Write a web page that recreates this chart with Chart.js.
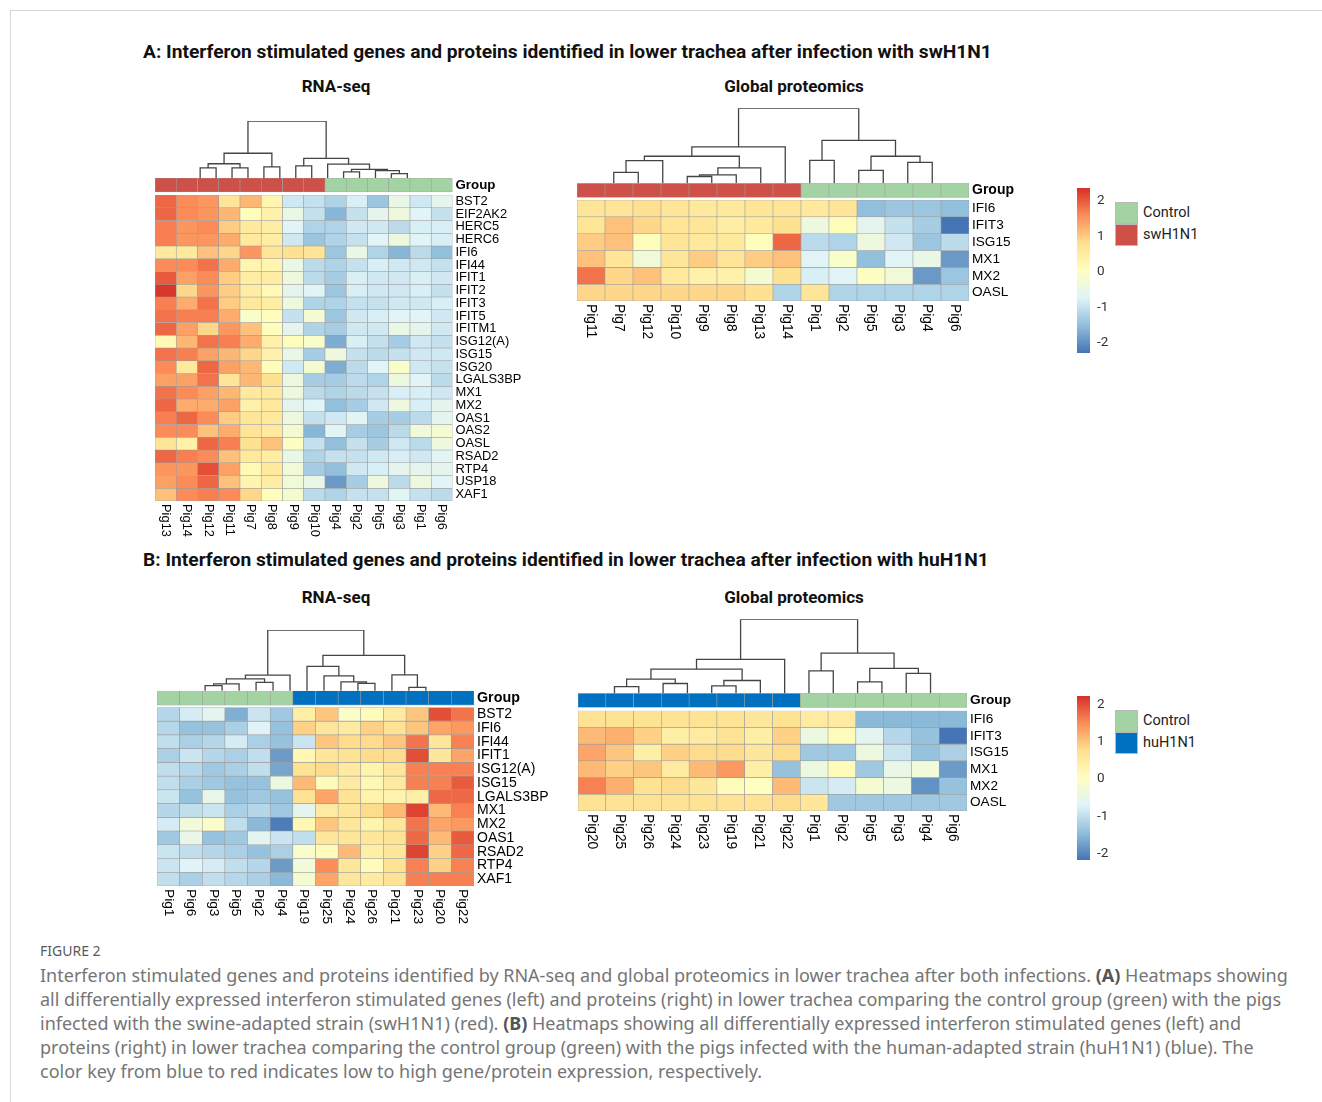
<!DOCTYPE html>
<html><head><meta charset="utf-8">
<script src="https://cdn.jsdelivr.net/npm/chart.js@4.4.0/dist/chart.umd.min.js"></script>
<style>
html,body{margin:0;padding:0;background:#fff;}
body{width:1322px;height:1102px;position:relative;overflow:hidden;font-family:Roboto,'Liberation Sans',sans-serif;}
.abs{position:absolute;white-space:nowrap;}
.frame{position:absolute;left:10px;top:10px;width:1330px;height:1110px;border-top:1px solid #d6d6d6;border-left:1px solid #d6d6d6;}
.title{font-weight:bold;font-size:19.2px;line-height:24px;color:#111;}
.sub{font-weight:bold;font-size:17px;line-height:20px;color:#111;transform:translateX(-50%);}
.sq{position:absolute;width:23px;height:22px;border:1px solid #b9b9b9;box-sizing:border-box;}
.lg{font-size:14.5px;color:#222;line-height:22px;}
.fig{font-family:'Noto Sans',sans-serif;font-size:14px;color:#5a5a5a;line-height:20px;}
.cap{font-family:'Noto Sans',sans-serif;font-size:18px;line-height:24px;color:#757575;}
.cap b{color:#555;}
canvas{position:absolute;}
</style></head><body>
<div class="frame"></div>
<div class="abs title" style="left:143px;top:40px;">A: Interferon stimulated genes and proteins identified in lower trachea after infection with swH1N1</div>
<div class="abs sub" style="left:336px;top:76px;">RNA-seq</div>
<div class="abs sub" style="left:794px;top:76px;">Global proteomics</div>
<div class="abs title" style="left:143px;top:548px;">B: Interferon stimulated genes and proteins identified in lower trachea after infection with huH1N1</div>
<div class="abs sub" style="left:336px;top:587px;">RNA-seq</div>
<div class="abs sub" style="left:794px;top:587px;">Global proteomics</div>

<div id="legA"></div><div id="legB"></div>

<div class="abs fig" style="left:40px;top:941px;">FIGURE 2</div>
<div class="abs cap" style="left:40px;top:963px;">Interferon stimulated genes and proteins identified by RNA-seq and global proteomics in lower trachea after both infections. <b>(A)</b> Heatmaps showing<br>all differentially expressed interferon stimulated genes (left) and proteins (right) in lower trachea comparing the control group (green) with the pigs<br>infected with the swine-adapted strain (swH1N1) (red). <b>(B)</b> Heatmaps showing all differentially expressed interferon stimulated genes (left) and<br>proteins (right) in lower trachea comparing the control group (green) with the pigs infected with the human-adapted strain (huH1N1) (blue). The<br>color key from blue to red indicates low to high gene/protein expression, respectively.</div>

<script>
// ---------------- DATA ----------------
const rnaGenesA = ['BST2','EIF2AK2','HERC5','HERC6','IFI6','IFI44','IFIT1','IFIT2','IFIT3','IFIT5','IFITM1','ISG12(A)','ISG15','ISG20','LGALS3BP','MX1','MX2','OAS1','OAS2','OASL','RSAD2','RTP4','USP18','XAF1'];
const rnaPigsA = ['Pig13','Pig14','Pig12','Pig11','Pig7','Pig8','Pig9','Pig10','Pig4','Pig2','Pig5','Pig3','Pig1','Pig6'];
const rnaGroupsA = ['swH1N1','swH1N1','swH1N1','swH1N1','swH1N1','swH1N1','swH1N1','swH1N1','Control','Control','Control','Control','Control','Control'];
const rnaValuesA = [
  [1.9,1.6,1.5,0.7,1.2,0.3,-0.9,-1.0,-1.2,-0.8,-1.4,-0.5,-0.9,-0.6],
  [1.9,1.6,1.5,1.2,0.1,0.4,-0.5,-1.0,-1.6,-1.0,-0.6,-0.4,-0.7,-1.0],
  [1.7,1.5,1.6,1.0,0.6,0.5,-0.7,-1.2,-1.2,-0.9,-0.9,-1.1,-0.8,-0.8],
  [1.7,1.5,1.5,1.3,0.6,0.5,-0.9,-1.4,-1.2,-1.0,-0.7,-0.4,-0.7,-0.8],
  [0.6,0.6,1.1,0.9,1.5,0.7,0.8,0.7,-1.4,-0.5,-1.2,-1.6,-1.1,-1.5],
  [1.6,1.6,1.8,1.3,0.3,0.3,-0.5,-1.1,-1.2,-1.0,-0.8,-0.9,-0.9,-1.0],
  [2.0,1.4,1.6,1.0,0.5,0.5,-0.4,-1.1,-1.3,-0.8,-0.9,-0.9,-0.8,-0.9],
  [2.3,0.9,1.5,1.0,0.5,0.2,-0.6,-0.7,-1.4,-0.8,-0.9,-0.9,-0.8,-1.0],
  [1.7,1.3,1.8,1.0,0.6,0.5,-0.4,-1.2,-1.2,-1.0,-1.0,-0.9,-0.9,-0.8],
  [1.8,1.7,1.7,1.3,-0.1,0.1,-1.0,-0.2,-1.4,-0.9,-0.8,-0.7,-0.7,-0.9],
  [1.9,1.4,0.9,1.5,1.1,0.1,-0.6,-1.2,-1.3,-0.9,-0.9,-0.5,-0.6,-0.9],
  [0.2,1.2,1.8,1.7,1.3,0.4,0.1,-0.1,-1.7,-0.8,-1.0,-1.3,-0.9,-1.0],
  [1.8,1.7,1.4,1.2,0.9,0.4,-0.5,-1.3,-0.4,-1.0,-1.1,-1.0,-0.9,-0.9],
  [1.6,0.6,1.9,1.4,1.2,0.1,-0.9,-0.2,-1.7,-1.1,-0.7,-0.1,-0.9,-1.0],
  [1.4,1.4,1.8,0.7,1.2,0.8,-0.4,-1.3,-1.3,-1.1,-1.2,-0.4,-0.7,-1.1],
  [1.8,1.6,1.4,1.2,0.6,0.6,-0.4,-1.1,-1.2,-1.1,-1.0,-0.8,-0.8,-0.9],
  [1.9,1.3,1.3,1.4,0.4,0.6,-0.6,-0.7,-1.5,-1.3,-0.9,-0.4,-0.8,-0.6],
  [1.7,1.9,1.6,1.0,0.7,0.6,-0.4,-1.0,-0.9,-0.7,-1.3,-1.3,-1.1,-0.6],
  [1.6,1.6,1.1,1.3,0.7,0.6,-0.2,-1.6,-0.7,-1.3,-1.4,-1.1,-0.3,-0.2],
  [0.7,0.4,1.9,1.7,0.8,1.1,0.0,-1.0,-1.5,-1.0,-1.3,-0.9,-1.1,-0.4],
  [1.9,1.7,1.6,1.1,0.6,0.5,-0.5,-1.2,-1.0,-1.0,-0.9,-0.8,-0.9,-0.7],
  [1.5,1.5,2.1,1.4,0.2,0.6,-0.3,-1.3,-1.5,-0.9,-0.8,-0.6,-0.6,-0.6],
  [1.4,1.6,1.9,1.1,0.3,0.5,-0.3,-0.5,-1.9,-1.3,-0.4,-1.1,-0.4,-0.7],
  [1.1,1.6,1.7,1.6,0.9,0.1,-0.2,-1.1,-1.2,-1.0,-1.0,-0.7,-1.0,-1.1]
];
// dendrogram merges: [left, right, height]; leaves are column positions
const rnaTreeA = [[[[0,1,10],[2,3,10],14],[4,5,11],24.3],[[6,7,12],[8,[[9,10,6],[11,[12,13,4.3],7.3],8.5],13.7],19.3],56];

const protGenes = ['IFI6','IFIT3','ISG15','MX1','MX2','OASL'];
const protPigsA = ['Pig11','Pig7','Pig12','Pig10','Pig9','Pig8','Pig13','Pig14','Pig1','Pig2','Pig5','Pig3','Pig4','Pig6'];
const protGroupsA = rnaGroupsA.slice();
const protValuesA = [
  [0.7,0.7,0.8,0.7,0.6,0.6,0.7,0.7,0.6,0.7,-1.5,-1.4,-1.4,-1.5],
  [0.7,1.1,0.9,0.7,0.7,0.5,0.6,0.8,-0.4,0.1,-0.6,-1.0,-1.3,-2.3],
  [1.0,1.1,0.1,0.7,0.6,0.6,0.1,1.9,-1.1,-1.2,-0.4,-0.9,-1.4,-1.1],
  [1.1,0.7,-0.3,0.7,1.0,0.7,1.0,1.1,-0.7,-0.1,-1.5,-0.7,-0.5,-1.9],
  [1.8,0.9,1.1,0.6,0.4,0.4,-0.2,0.8,-0.8,-0.7,0.0,-0.3,-1.9,-1.4],
  [0.9,0.9,0.9,0.9,0.9,0.9,0.8,-1.2,0.7,-1.2,-1.2,-1.2,-1.2,-1.2]
];
const protTreeA = [[[[[0,1,10.7],2,22.3],[[[3,4,6.7],5,8.3],6,15.3],26.7],7,36],[[8,9,22.7],[[10,11,12.7],[12,13,20.7],26.7],42.3],74];

const rnaGenesB = ['BST2','IFI6','IFI44','IFIT1','ISG12(A)','ISG15','LGALS3BP','MX1','MX2','OAS1','RSAD2','RTP4','XAF1'];
const rnaPigsB = ['Pig1','Pig6','Pig3','Pig5','Pig2','Pig4','Pig19','Pig25','Pig24','Pig26','Pig21','Pig23','Pig20','Pig22'];
const rnaGroupsB = ['Control','Control','Control','Control','Control','Control','huH1N1','huH1N1','huH1N1','huH1N1','huH1N1','huH1N1','huH1N1','huH1N1'];
const rnaValuesB = [
  [-1.1,-0.8,-0.6,-1.6,-0.9,-1.3,0.4,1.0,-0.1,0.1,0.5,1.0,2.0,1.7],
  [-1.1,-1.4,-1.4,-1.2,-0.7,-1.4,0.9,0.6,0.5,0.9,0.7,1.0,1.3,1.4],
  [-1.0,-1.2,-1.1,-0.8,-1.2,-1.4,-0.9,1.0,0.8,0.8,1.0,1.7,0.6,1.6],
  [-1.2,-0.9,-1.1,-1.2,-1.0,-1.8,0.2,0.6,0.7,0.8,0.8,2.0,0.6,1.3],
  [-1.0,-1.1,-1.3,-1.2,-1.0,-1.7,0.7,0.8,0.5,0.3,0.6,1.6,1.6,1.6],
  [-1.0,-1.2,-1.3,-1.4,-1.4,-0.4,1.1,0.1,0.5,0.2,0.5,1.6,1.6,1.9],
  [-0.9,-1.4,-0.5,-1.4,-1.3,-1.4,0.7,1.3,0.7,0.3,0.3,0.4,1.8,1.8],
  [-1.1,-1.0,-0.9,-1.2,-1.1,-1.3,-0.6,0.5,0.6,0.8,1.1,2.1,1.1,1.6],
  [-0.8,-0.3,-0.1,-1.0,-1.5,-2.1,0.2,1.0,0.6,0.3,0.6,1.7,1.3,1.4],
  [-1.3,-0.5,-1.4,-1.3,-0.6,-0.9,-1.0,0.6,0.6,0.6,0.7,1.8,1.1,1.9],
  [-0.9,-1.0,-1.1,-1.2,-1.4,-1.2,-0.1,0.1,1.1,0.4,0.6,2.1,0.9,1.8],
  [-0.9,-0.7,-0.8,-1.0,-1.1,-1.8,-0.3,1.5,0.6,0.1,0.7,1.6,0.9,1.6],
  [-1.0,-1.2,-1.0,-1.1,-1.2,-1.5,-0.2,1.3,0.6,0.5,0.7,1.6,1.6,1.6]
];
const rnaTreeB = [[[[[0,1,5],2,6.7],[3,4,8.3],11.7],5,15.3],[[6,[7,[8,[9,10,7.3],8.7],14.7],24],[11,[12,13,3.3],15.7],34.7],59.7];

const protPigsB = ['Pig20','Pig25','Pig26','Pig24','Pig23','Pig19','Pig21','Pig22','Pig1','Pig2','Pig5','Pig3','Pig4','Pig6'];
const protGroupsB = ['huH1N1','huH1N1','huH1N1','huH1N1','huH1N1','huH1N1','huH1N1','huH1N1','Control','Control','Control','Control','Control','Control'];
const protValuesB = [
  [0.7,0.7,0.7,0.7,0.7,0.7,0.6,0.7,0.5,0.5,-1.5,-1.5,-1.5,-1.5],
  [1.1,1.2,0.9,0.4,0.5,0.7,0.4,0.9,-0.4,0.1,-0.6,-1.1,-1.4,-2.3],
  [1.3,1.0,0.4,0.9,0.8,0.8,0.6,0.8,-1.3,-1.3,-0.4,-0.9,-1.4,-1.2],
  [1.1,0.9,1.0,0.5,1.1,1.4,0.4,-1.4,-0.4,0.1,-1.3,-0.5,-0.3,-1.8],
  [1.6,1.2,0.7,0.8,0.6,0.1,0.0,1.1,-0.9,-0.8,-0.2,-0.4,-1.9,-1.4],
  [0.7,0.7,0.7,0.7,0.7,0.7,0.7,0.8,0.6,-1.3,-1.3,-1.3,-1.3,-1.3]
];
const protTreeB = [[[[[0,1,6.7],[2,3,9.7],14],[[4,5,7.3],6,12.7],24],7,33.7],[[8,9,22.3],[[10,11,11.3],[12,13,19.7],24.7],39.7],73.3];

const colorTicks = [-2,-1,0,1,2];
const rangeA = [-2.28, 2.36];
const rangeB = [-2.18, 2.24];
const legendA = ['Control','swH1N1'];
const legendB = ['Control','huH1N1'];

// ---------------- STYLE ----------------
const palette = ['#4575B4','#91BFDB','#E0F3F8','#FFFFBF','#FEE090','#FC8D59','#D73027'];
const groupColors = {Control:'#A3D3A3', swH1N1:'#CD5049', huH1N1:'#0070C0'};
const cellBorder = '#9c9c9c';
const labelFamily = "'Liberation Sans', Arial, sans-serif";

function hexRgb(h){return [parseInt(h.slice(1,3),16),parseInt(h.slice(3,5),16),parseInt(h.slice(5,7),16)];}
const palRgb = palette.map(hexRgb);
function heatColor(v, range){
  let t = (v - range[0]) / (range[1] - range[0]);
  t = Math.max(0, Math.min(1, t)) * (palRgb.length - 1);
  const i = Math.min(palRgb.length - 2, Math.floor(t)), f = t - i;
  const a = palRgb[i], b = palRgb[i+1];
  return 'rgb(' + a.map((c,k)=>Math.round(c + (b[k]-c)*f)).join(',') + ')';
}

function treeSegments(tree){
  const pts = [];
  function walk(node){
    if (typeof node === 'number') return {x: node, h: 0};
    const a = walk(node[0]), b = walk(node[1]), h = node[2];
    pts.push({x:a.x,y:a.h},{x:a.x,y:h},{x:b.x,y:h},{x:b.x,y:b.h},{x:b.x,y:NaN});
    return {x:(a.x+b.x)/2, h:h};
  }
  walk(tree);
  return pts;
}

const colLabelPlugin = {
  id: 'colLabels',
  afterDraw(chart, args, opts){
    const {ctx, chartArea} = chart;
    const xs = chart.scales.x;
    ctx.save();
    ctx.font = opts.size + 'px ' + labelFamily;
    ctx.fillStyle = '#000';
    ctx.textAlign = 'left';
    ctx.textBaseline = 'middle';
    xs.getLabels().forEach((lab, i) => {
      ctx.save();
      ctx.translate(xs.getPixelForValue(i), chartArea.bottom + opts.gap);
      ctx.rotate(Math.PI / 2);
      ctx.fillText(lab, 0, 0);
      ctx.restore();
    });
    ctx.restore();
  }
};

function heatPanel(p){
  const n = p.pigs.length, m = p.genes.length;
  const axisW = 90, padT = 16, padB = 48;
  const canvasLeft = Math.floor(p.left) - 6;
  const canvasTop = Math.floor(p.top) - padT;
  const padLeft = p.left - canvasLeft;
  const padTop = p.top - canvasTop;
  const areaW = p.right - p.left;
  const areaH = p.dendroPx + p.barPx + p.gapPx + p.heatPx;
  const W = Math.ceil(padLeft + areaW + axisW + 2);
  const H = Math.ceil(padTop + areaH + padB);
  const cv = document.createElement('canvas');
  cv.width = W; cv.height = H;
  cv.style.left = canvasLeft + 'px'; cv.style.top = canvasTop + 'px';
  cv.style.width = W + 'px'; cv.style.height = H + 'px';
  document.body.appendChild(cv);
  const gapFrac = p.gapPx / (p.gapPx + p.barPx);
  const fix = s => { s.width = axisW; };
  const datasets = p.values.map((row, r) => ({
    type: 'bar', label: p.genes[r], data: row.map(() => 1),
    backgroundColor: row.map(v => heatColor(v, p.range)),
    borderColor: cellBorder, borderWidth: 0.6, borderSkipped: false,
    xAxisID: 'x', yAxisID: 'y', barPercentage: 1, categoryPercentage: 1, grouped: false, stack: 'heat'
  }));
  datasets.push({
    type: 'bar', label: 'Group', data: p.groups.map(() => [gapFrac, 1]),
    backgroundColor: p.groups.map(g => groupColors[g]),
    borderColor: cellBorder, borderWidth: 0.6, borderSkipped: false,
    xAxisID: 'x', yAxisID: 'yg', barPercentage: 1, categoryPercentage: 1, grouped: false
  });
  datasets.push({
    type: 'line', label: 'dendrogram', data: treeSegments(p.tree),
    xAxisID: 'xd', yAxisID: 'yd', borderColor: '#444', borderWidth: 1.3,
    pointRadius: 0, tension: 0, spanGaps: false, fill: false, borderCapStyle: 'square'
  });
  new Chart(cv, {
    type: 'bar',
    data: { labels: p.pigs, datasets },
    options: {
      responsive: false, animation: false, events: [],
      layout: { padding: { left: padLeft, top: padTop, right: W - padLeft - areaW - axisW, bottom: padB } },
      plugins: { legend: { display: false }, tooltip: { enabled: false }, colLabels: { size: p.colFont, gap: 3 } },
      scales: {
        x: { type: 'category', offset: true, display: false, stacked: true },
        xd: { type: 'linear', min: -0.5, max: n - 0.5, display: false },
        yd: { type: 'linear', position: 'right', stack: 'v', stackWeight: p.dendroPx, weight: 1,
              min: 0, max: p.tree[2], display: false, afterFit: fix },
        yg: { type: 'linear', position: 'right', stack: 'v', stackWeight: p.barPx + p.gapPx, weight: 2,
              min: 0, max: 1, grid: { display: false, drawTicks: false }, border: { display: false },
              ticks: { autoSkip: false, padding: 3, color: '#000', font: { family: labelFamily, size: p.groupFont, weight: 'bold' },
                       callback: () => 'Group' },
              afterBuildTicks: s => { s.ticks = [{ value: (gapFrac + 1) / 2 }]; }, afterFit: fix },
        y: { type: 'linear', position: 'right', stack: 'v', stackWeight: p.heatPx, weight: 3,
             min: 0, max: m, reverse: true, stacked: true,
             grid: { display: false, drawTicks: false }, border: { display: false },
             ticks: { autoSkip: false, padding: 3, color: '#000', font: { family: labelFamily, size: p.rowFont },
                      callback: (v, i) => p.genes[i] },
             afterBuildTicks: s => { s.ticks = p.genes.map((g, i) => ({ value: i + 0.5 })); }, afterFit: fix }
      }
    },
    plugins: [colLabelPlugin]
  });
}

function colorBar(left, top, height, range, legendEl, legendLabels){
  const padL = 7, barW = 13, axisW = 40;
  const W = padL + barW + axisW, H = height + 26;
  const cv = document.createElement('canvas');
  cv.width = W; cv.height = H;
  cv.style.left = (left - padL) + 'px'; cv.style.top = (top - 13) + 'px';
  cv.style.width = W + 'px'; cv.style.height = H + 'px';
  document.body.appendChild(cv);
  new Chart(cv, {
    type: 'bar',
    data: { labels: [''], datasets: [{
      data: [[range[0], range[1]]], barPercentage: 1, categoryPercentage: 1, borderWidth: 0,
      backgroundColor: c => {
        const ch = c.chart, ys = ch.scales.y;
        if (!ch.chartArea || !ys) return palette[3];
        const g = ch.ctx.createLinearGradient(0, ys.getPixelForValue(range[0]), 0, ys.getPixelForValue(range[1]));
        palette.forEach((col, i) => g.addColorStop(i / (palette.length - 1), col));
        return g;
      }
    }] },
    options: {
      responsive: false, animation: false, events: [],
      layout: { padding: { left: padL, top: 13, bottom: 13, right: 0 } },
      plugins: { legend: { display: false }, tooltip: { enabled: false } },
      scales: {
        x: { display: false },
        y: { position: 'right', min: range[0], max: range[1],
             grid: { display: false, drawTicks: false }, border: { display: false },
             ticks: { autoSkip: false, padding: 7, color: '#333', font: { family: 'Roboto', size: 13.5 }, callback: v => String(v) },
             afterBuildTicks: s => { s.ticks = colorTicks.map(v => ({ value: v })); },
             afterFit: s => { s.width = axisW; } }
      }
    }
  });
  const el = document.getElementById(legendEl);
  legendLabels.forEach((lab, i) => {
    const sq = document.createElement('div');
    sq.className = 'sq';
    sq.style.left = '1115px'; sq.style.top = (top + 16 + i * 22) + 'px';
    sq.style.background = groupColors[lab];
    el.appendChild(sq);
    const tx = document.createElement('div');
    tx.className = 'abs lg';
    tx.style.left = '1143px'; tx.style.top = (top + 16 + i * 22) + 'px';
    tx.textContent = lab;
    el.appendChild(tx);
  });
}

heatPanel({ genes: rnaGenesA, pigs: rnaPigsA, groups: rnaGroupsA, values: rnaValuesA, tree: rnaTreeA, range: rangeA,
  left: 155, right: 452.5, top: 121, dendroPx: 57, barPx: 14, gapPx: 3, heatPx: 306, rowFont: 12.9, colFont: 12.9, groupFont: 13.3 });
heatPanel({ genes: protGenes, pigs: protPigsA, groups: protGroupsA, values: protValuesA, tree: protTreeA, range: rangeA,
  left: 577, right: 969, top: 108.3, dendroPx: 75, barPx: 14, gapPx: 2.7, heatPx: 101, rowFont: 13.6, colFont: 13.8, groupFont: 14 });
heatPanel({ genes: rnaGenesB, pigs: rnaPigsB, groups: rnaGroupsB, values: rnaValuesB, tree: rnaTreeB, range: rangeB,
  left: 157, right: 474, top: 630, dendroPx: 60.7, barPx: 14.3, gapPx: 2.3, heatPx: 178.4, rowFont: 14, colFont: 13.7, groupFont: 14.3 });
heatPanel({ genes: protGenes, pigs: protPigsB, groups: protGroupsB, values: protValuesB, tree: protTreeB, range: rangeB,
  left: 578, right: 967, top: 619.3, dendroPx: 74, barPx: 14, gapPx: 3.4, heatPx: 100.3, rowFont: 13.6, colFont: 13.8, groupFont: 13.7 });
colorBar(1077, 186, 169, rangeA, 'legA', legendA);
colorBar(1077, 694, 168, rangeB, 'legB', legendB);
</script>
</body></html>
